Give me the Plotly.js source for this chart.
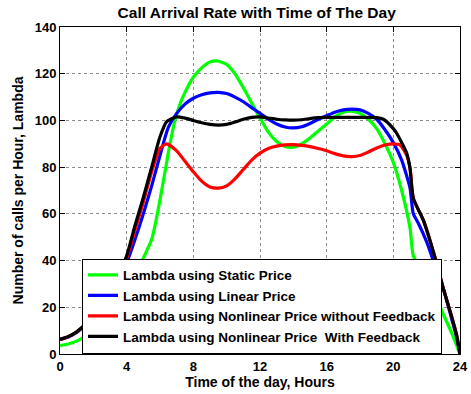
<!DOCTYPE html>
<html>
<head>
<meta charset="utf-8">
<script src="https://cdn.plot.ly/plotly-3.0.1.min.js"></script>
<style>
  html, body { margin: 0; padding: 0; background: #fff; }
  #chart { width: 471px; height: 394px; }
</style>
</head>
<body>
<div id="chart"></div>
<script>
// Hour of the day and call arrival rate (calls per hour) for each pricing scheme
const staticHours = [0, 0.5, 1, 1.5, 2, 2.5, 3, 3.5, 4, 4.5, 4.8, 5, 5.5, 5.7, 6, 6.3, 6.6, 6.9, 7.2, 7.5, 8, 8.5, 9, 9.4, 10, 10.5, 11, 11.5, 12, 12.5, 13, 13.5, 14, 14.5, 15, 15.5, 16, 16.5, 17, 17.5, 18, 18.5, 19, 19.5, 20, 20.5, 21, 21.2, 21.6, 22, 22.5, 23, 23.5, 24];
const staticLambda = [3.6, 4.3, 5.5, 7.5, 10, 13, 17, 22, 27, 33, 38, 41, 49, 55, 66, 78, 90, 100, 107, 112, 118.5, 122.5, 125, 125.5, 124, 120, 114, 107.5, 101, 95, 91, 88.8, 88.5, 90, 92.5, 95.5, 98.5, 101.5, 103.5, 104, 103, 100.5, 96.5, 90, 82, 70, 54, 42, 37.5, 32, 25, 17, 9, 0];

const linearHours = [0, 0.5, 1, 1.5, 2, 2.5, 3, 3.5, 4, 4.5, 5, 5.5, 6, 6.5, 7, 7.5, 8, 8.5, 9, 9.5, 10, 10.5, 11, 11.5, 12, 12.5, 13, 13.5, 14, 14.5, 15, 15.5, 16, 16.5, 17, 17.5, 18, 18.5, 19, 19.5, 20, 20.5, 21, 21.2, 21.5, 22, 22.4, 23, 23.5, 23.8, 24];
const linearLambda = [6.2, 7.3, 9.2, 12.2, 15.5, 20.3, 26, 32, 39, 49, 60, 72, 85, 97, 103, 107, 109.5, 111, 111.8, 112, 111.5, 110, 108, 105.5, 103, 100.5, 98.5, 97.2, 96.8, 97.3, 98.7, 100.5, 102, 103.5, 104.5, 104.8, 104.5, 103, 100.5, 96, 90.5, 83, 71, 60, 56, 48, 40, 28, 15, 7, 0];

const nonlinHours = [0, 0.5, 1, 1.5, 2, 2.5, 3, 3.5, 4, 4.5, 5, 5.5, 6, 6.4, 7, 7.5, 8, 8.5, 9, 9.5, 10, 10.5, 11, 11.5, 12, 12.5, 13, 13.5, 14, 14.5, 15, 15.5, 16, 16.5, 17, 17.5, 18, 18.5, 19, 19.5, 20, 20.4, 20.8, 21, 21.2, 21.8, 22.6, 23, 23.5, 23.8, 24];
const nonlinLambda = [6.2, 7.4, 9.4, 12.4, 15.8, 20.5, 26.5, 33.5, 41, 53, 65, 78, 88, 90, 87, 82.5, 78, 74, 71.5, 71, 72, 75, 79, 83, 86, 88, 89, 89.5, 89.6, 89.3, 88.8, 88, 87, 85.8, 84.8, 84.5, 85, 86.5, 88.2, 89.5, 90, 89.5, 85, 79.6, 66.6, 57.3, 38.8, 28, 16, 8, 0];

const feedbackHours = [0, 0.5, 1, 1.5, 2, 2.5, 3, 3.5, 3.7, 4, 4.5, 5, 5.5, 6, 6.4, 7, 7.5, 8, 8.5, 9, 9.5, 10, 10.5, 11, 11.5, 12, 12.5, 13, 13.5, 14, 14.5, 15, 15.5, 16, 17, 18, 19, 19.4, 20, 20.2, 20.8, 21, 21.2, 21.8, 22.6, 23, 23.5, 23.8, 24];
const feedbackLambda = [6.3, 7.5, 9.5, 12.5, 16, 21, 27, 34, 37, 42, 55, 67, 80, 93, 99.5, 101.5, 101, 100, 99, 98.3, 98, 98.3, 99.3, 100.5, 101.3, 101.5, 101, 100.5, 100.2, 100.1, 100.3, 100.8, 101.2, 101.3, 101.3, 101.3, 101.2, 100.5, 96.5, 94.5, 86, 79.6, 66.6, 57.3, 38.8, 28, 16, 8, 0];

const seriesNames = [
  'Lambda using Static Price',
  'Lambda using Linear Price',
  'Lambda using Nonlinear Price without Feedback',
  'Lambda using Nonlinear Price\u00a0 With Feedback'
];
const seriesColors = ['#00ff00', '#0000ff', '#ff0000', '#000000'];

const xs = [staticHours, linearHours, nonlinHours, feedbackHours];
const ys = [staticLambda, linearLambda, nonlinLambda, feedbackLambda];

const traces = xs.map((x, i) => ({
  type: 'scatter',
  mode: 'lines',
  x: x,
  y: ys[i],
  name: seriesNames[i],
  line: { color: seriesColors[i], width: 3.2, shape: 'spline', smoothing: 0.6 }
}));

const baseFont = { family: 'Arial, "Liberation Sans", sans-serif', color: '#000', weight: 'bold' };

const axisCommon = {
  showline: true,
  linecolor: '#000',
  linewidth: 1,
  mirror: 'ticks',
  ticks: 'inside',
  ticklen: 5,
  tickcolor: '#000',
  showgrid: true,
  gridcolor: '#8c8c8c',
  gridwidth: 1,
  griddash: 'dot',
  zeroline: false,
  tickfont: Object.assign({ size: 13 }, baseFont)
};

const layout = {
  width: 471,
  height: 394,
  margin: { l: 60, r: 11, t: 27, b: 40 },
  paper_bgcolor: '#fff',
  plot_bgcolor: '#fff',
  title: {
    text: 'Call Arrival Rate with Time of The Day',
    font: Object.assign({ size: 15.5 }, baseFont),
    x: 0.545,
    xanchor: 'center',
    y: 0.968,
    yanchor: 'middle'
  },
  xaxis: Object.assign({}, axisCommon, {
    range: [0, 24],
    tickmode: 'linear',
    tick0: 0,
    dtick: 4,
    title: { text: 'Time of the day, Hours', font: Object.assign({ size: 14 }, baseFont), standoff: 1 }
  }),
  yaxis: Object.assign({}, axisCommon, {
    range: [0, 140],
    tickmode: 'linear',
    tick0: 0,
    dtick: 20,
    title: { text: 'Number of calls per Hour, Lambda', font: Object.assign({ size: 14 }, baseFont), standoff: 7 }
  }),
  showlegend: true,
  legend: {
    x: 0.055,
    y: 0.292,
    xanchor: 'left',
    yanchor: 'top',
    bgcolor: '#fff',
    bordercolor: '#000',
    borderwidth: 1,
    font: Object.assign({ size: 13.5 }, baseFont),
    tracegroupgap: 0,
    itemwidth: 30
  }
};

Plotly.newPlot('chart', traces, layout, { displayModeBar: false, staticPlot: true });
</script>
</body>
</html>
